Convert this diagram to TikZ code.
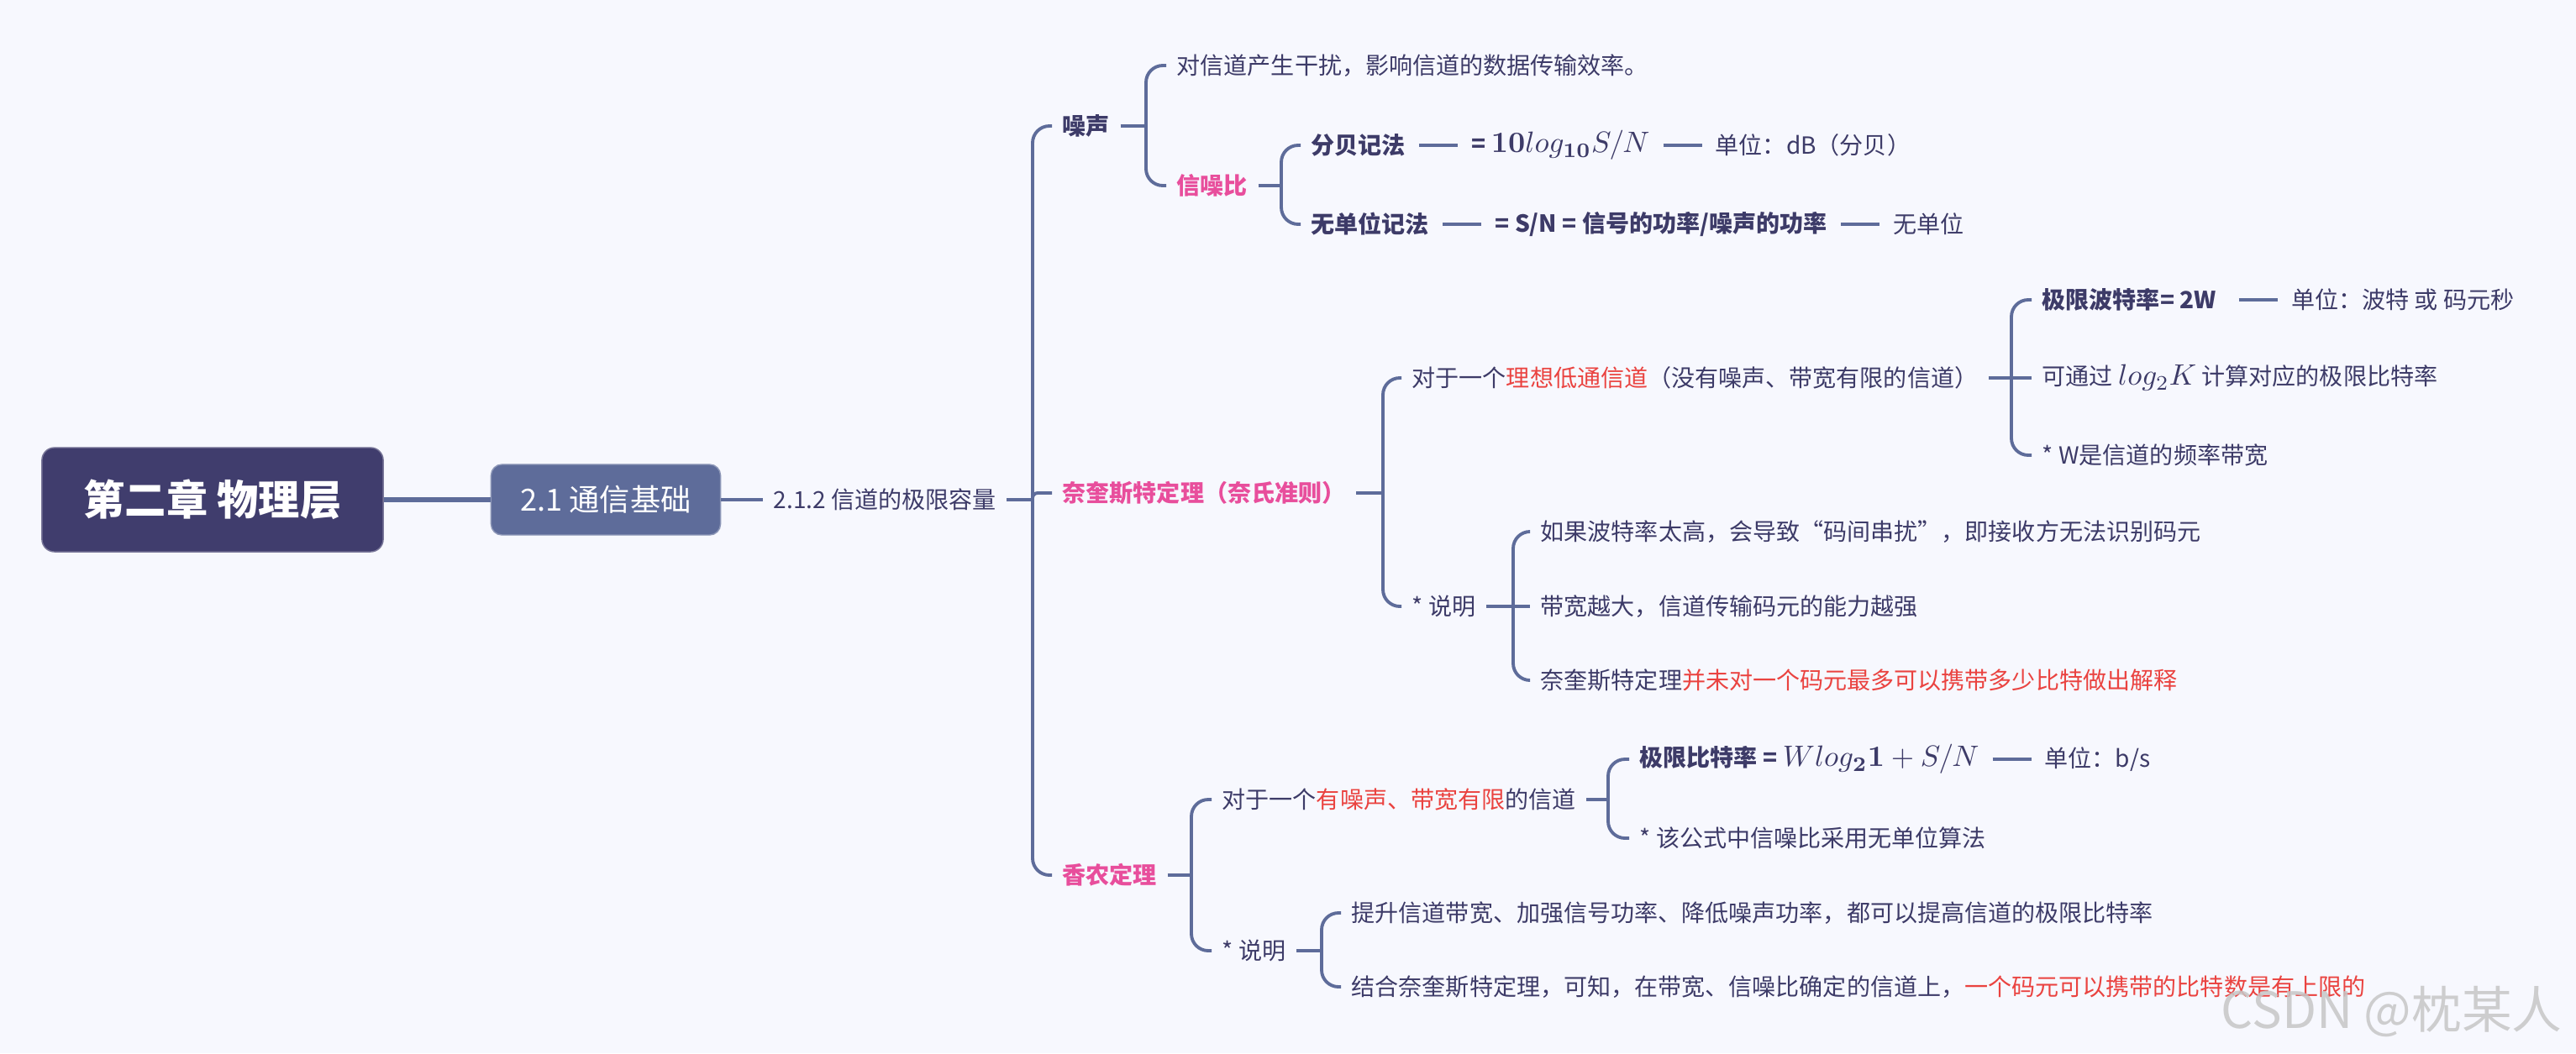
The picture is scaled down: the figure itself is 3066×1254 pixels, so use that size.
\documentclass[tikz,border=0pt]{standalone}
\usepackage[no-math]{fontspec}
\setmainfont{Noto Sans CJK SC}
\usepackage{amsmath}
\usetikzlibrary{positioning,calc}
\definecolor{bgclr}{RGB}{247,248,254}
\definecolor{rootclr}{RGB}{64,61,109}
\definecolor{secclr}{RGB}{94,108,154}
\definecolor{lineclr}{RGB}{94,108,154}
\definecolor{txtclr}{RGB}{61,59,104}
\definecolor{pinkclr}{RGB}{232,78,156}
\definecolor{redclr}{RGB}{234,67,64}
\newcommand{\bodyfont}{\fontsize{7.98}{9.6}\selectfont}
\newcommand{\hl}[1]{\textcolor{redclr}{#1}}
\newcommand{\fml}[1]{{\fontsize{9.6}{11}\selectfont$#1$}}
\tikzset{
  % boxes
  rootbox/.style  = {fill=rootclr, draw=rootclr!70!white, rounded corners=0.15cm,
                     minimum width=4.06cm, minimum height=1.24cm, text=white,
                     font=\fontsize{14}{16}\selectfont\bfseries},
  secbox/.style   = {fill=secclr, draw=secclr!70!white, rounded corners=0.13cm,
                     minimum width=2.73cm, minimum height=0.84cm, text=white,
                     font=\fontsize{10.3}{12}\selectfont},
  % text nodes
  leaf/.style     = {anchor=west, inner xsep=0.12cm, inner ysep=1pt,
                     font=\bodyfont, text=txtclr},
  keyleaf/.style  = {leaf, font=\bodyfont\bfseries},
  topic/.style    = {leaf, font=\bodyfont\bfseries, text=pinkclr},
  % lines
  rootline/.style = {draw=lineclr, line width=1.7pt},
  subline/.style  = {draw=lineclr, line width=1pt},
  branch/.style   = {draw=lineclr, line width=1.1pt, rounded corners=0.2cm},
  linkbar/.style  = {draw=lineclr, line width=1.1pt, shorten <=0.035cm, shorten >=0.035cm},
}
\begin{document}
\begin{tikzpicture}[x=0.01cm, y=-0.01cm]
  % background
  \fill[bgclr] (0,0) rectangle (3066,1254);
  \useasboundingbox (0,0) rectangle (3066,1254);

  % root and section
  \node[rootbox] (root) at (253,595) {第二章 物理层};
  \node[secbox] (sec) at (721,595) {2.1 通信基础};
  \node[leaf] (sub) at (908,595) {2.1.2 信道的极限容量};
  \draw[rootline] (root.east) -- (sec.west);
  \draw[subline] (sec.east) -- (sub.west);

  % first level
  \node[keyleaf] (noise) at (1252,150) {噪声};
  \node[topic] (nyq) at (1252,587) {奈奎斯特定理（奈氏准则）};
  \node[topic] (shan) at (1252,1042) {香农定理};
  \coordinate (j0) at (1229,595);
  \draw[branch] (sub.east) -- (j0);
  \draw[branch] (j0) |- (noise.west);
  \draw[branch] (j0) |- (shan.west);
  \draw[branch, rounded corners=0.06cm] (j0) |- (nyq.west);

  % noise
  \node[leaf] (noiseA) at (1388,78) {对信道产生干扰，影响信道的数据传输效率。};
  \node[topic] (snr) at (1388,221) {信噪比};
  \coordinate (jN) at (1364,150);
  \draw[branch] (noise.east) -- (jN);
  \draw[branch] (jN) |- (noiseA.west);
  \draw[branch] (jN) |- (snr.west);

  % signal to noise ratio
  \node[keyleaf] (db) at (1548,173) {分贝记法};
  \node[keyleaf, right=0.53cm of db] (dbF) {= \fml{\mathbf{10}log_{\mathbf{10}}S/N}};
  \node[leaf, right=0.53cm of dbF] (dbU) {单位：dB（分贝）};
  \node[keyleaf] (ratio) at (1548,267) {无单位记法};
  \node[keyleaf, right=0.53cm of ratio] (ratioF) {= S/N = 信号的功率/噪声的功率};
  \node[leaf, right=0.53cm of ratioF] (ratioU) {无单位};
  \coordinate (jS) at (1525,221);
  \draw[branch] (snr.east) -- (jS);
  \draw[branch] (jS) |- (db.west);
  \draw[branch] (jS) |- (ratio.west);
  \draw[linkbar] (db) -- (dbF);
  \draw[linkbar] (dbF) -- (dbU);
  \draw[linkbar] (ratio) -- (ratioF);
  \draw[linkbar] (ratioF) -- (ratioU);

  % nyquist
  \node[leaf] (lowpass) at (1668,450) {对于一个\hl{理想低通信道}（没有噪声、带宽有限的信道）};
  \node[leaf] (nyqNote) at (1668,722) {* 说明};
  \coordinate (jQ) at (1646,587);
  \draw[branch] (nyq.east) -- (jQ);
  \draw[branch] (jQ) |- (lowpass.west);
  \draw[branch] (jQ) |- (nyqNote.west);

  \node[keyleaf] (baud) at (2418,357) {极限波特率= 2W};
  \node[leaf, right=0.64cm of baud] (baudU) {单位：波特 或 码元秒};
  \node[leaf] (logk) at (2418,450) {可通过 \fml{log_2K} 计算对应的极限比特率};
  \node[leaf] (wband) at (2418,542) {* W是信道的频率带宽};
  \coordinate (jL) at (2394,450);
  \draw[branch] (lowpass.east) -- (jL);
  \draw[branch] (jL) |- (baud.west);
  \draw[branch] (jL) -- (logk.west);
  \draw[branch] (jL) |- (wband.west);
  \draw[linkbar, shorten <=0.14cm] (baud) -- (baudU);

  \node[leaf] (nA) at (1821,633) {如果波特率太高，会导致“码间串扰”，即接收方无法识别码元};
  \node[leaf] (nB) at (1821,722) {带宽越大，信道传输码元的能力越强};
  \node[leaf] (nC) at (1821,810) {奈奎斯特定理\hl{并未对一个码元最多可以携带多少比特做出解释}};
  \coordinate (jM) at (1801,722);
  \draw[branch] (nyqNote.east) -- (jM);
  \draw[branch] (jM) |- (nA.west);
  \draw[branch] (jM) -- (nB.west);
  \draw[branch] (jM) |- (nC.west);

  % shannon
  \node[leaf] (noisy) at (1442,952) {对于一个\hl{有噪声、带宽有限}的信道};
  \node[leaf] (shanNote) at (1442,1132) {* 说明};
  \coordinate (jH) at (1418,1042);
  \draw[branch] (shan.east) -- (jH);
  \draw[branch] (jH) |- (noisy.west);
  \draw[branch] (jH) |- (shanNote.west);

  \node[keyleaf] (limit) at (1939,904) {极限比特率 = \fml{Wlog_{\mathbf{2}}\mathbf{1}+S/N}};
  \node[leaf, right=0.53cm of limit] (limitU) {单位：b/s};
  \node[leaf] (formulaNote) at (1939,998) {* 该公式中信噪比采用无单位算法};
  \coordinate (jW) at (1914,952);
  \draw[branch] (noisy.east) -- (jW);
  \draw[branch] (jW) |- (limit.west);
  \draw[branch] (jW) |- (formulaNote.west);
  \draw[linkbar] (limit) -- (limitU);

  \node[leaf] (sA) at (1596,1087) {提升信道带宽、加强信号功率、降低噪声功率，都可以提高信道的极限比特率};
  \node[leaf] (sB) at (1596,1175) {结合奈奎斯特定理，可知，在带宽、信噪比确定的信道上，\hl{一个码元可以携带的比特数是有上限的}};
  \coordinate (jT) at (1573,1132);
  \draw[branch] (shanNote.east) -- (jT);
  \draw[branch] (jT) |- (sA.west);
  \draw[branch] (jT) |- (sB.west);

  % watermark
  \node[anchor=east, text=gray!45, opacity=0.85, font=\fontsize{17}{18}\selectfont] (mark) at (3062,1205) {CSDN @枕某人};
\end{tikzpicture}
\end{document}
